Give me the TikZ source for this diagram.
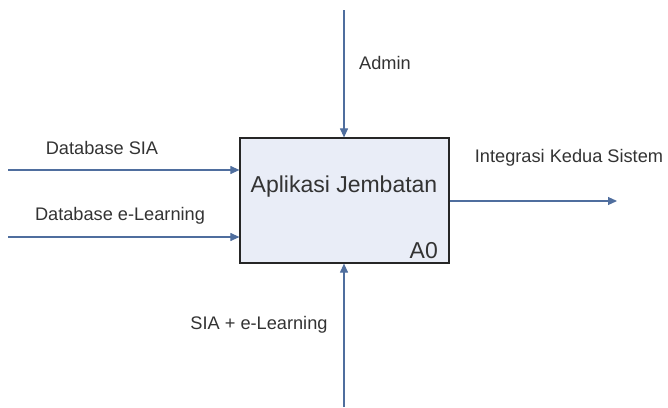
\documentclass[tikz,border=0pt]{standalone}
\usepackage{fontspec}
\setmainfont{Liberation Sans}
\usetikzlibrary{arrows.meta}
\definecolor{flow}{HTML}{4F6E9E}
\definecolor{boxfill}{HTML}{E9EDF7}
\definecolor{txt}{HTML}{333333}
\tikzset{
  flowline/.style={draw=flow, line width=1.1pt, -{Triangle[length=9pt,width=8pt]}},
  lbl/.style={text=txt, inner sep=0pt, font=\fontsize{18.2}{21}\selectfont},
  activity/.style={draw=black!85, line width=1.2pt, fill=boxfill, minimum width=209pt, minimum height=125pt, inner sep=0pt}
}
\begin{document}
\begin{tikzpicture}[x=1pt,y=-1pt]
\useasboundingbox (0,0) rectangle (668,407);
% activity box
\node[activity] (box) at (344.5,200.5) {};
\node[lbl, font=\fontsize{23}{26}\selectfont] (title) at (344,187) {Aplikasi Jembatan};
\node[lbl, font=\fontsize{23}{26}\selectfont, anchor=south east] (code) at (438,259) {A0};
% ends of the flows
\coordinate (in1) at (8,170);
\coordinate (in2) at (8,237);
\coordinate (out) at (617,201);
\coordinate (ctl) at (344,10);
\coordinate (mech) at (344,407);
% flows
\draw[flowline] (in1) -- (box.west |- in1);
\draw[flowline] (in2) -- (box.west |- in2);
\draw[flowline] (box.east |- out) -- (out);
\draw[flowline] (ctl) -- (box.north -| ctl);
\draw[flowline] (mech) -- (box.south -| mech);
% labels
\node[lbl] (l1) at (102,148) {Database SIA};
\node[lbl] (l2) at (120,216) {Database e-Learning};
\node[lbl] (l3) at (569,158) {Integrasi Kedua Sistem};
\node[lbl] (l4) at (385,63) {Admin};
\node[lbl] (l5) at (259,325) {SIA + e-Learning};
\end{tikzpicture}
\end{document}
